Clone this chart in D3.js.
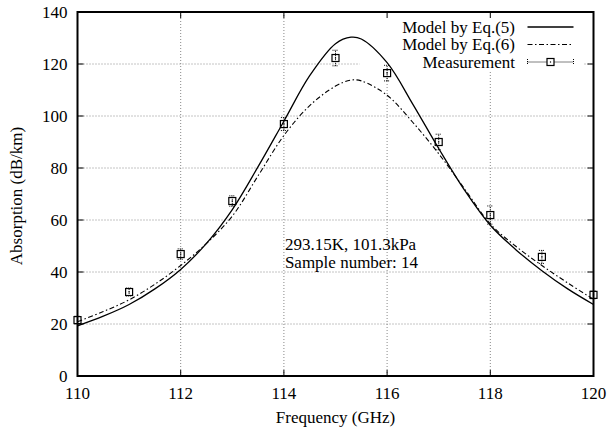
<!DOCTYPE html>
<html>
<head>
<meta charset="utf-8">
<script src="https://cdn.jsdelivr.net/npm/d3@7"></script>
<style>
  body { margin: 0; background: #fff; }
  svg text { font-family: "Liberation Serif"; font-size: 17px; fill: #000; }
</style>
</head>
<body>
<div id="chart"></div>
<script>
// Measured points (GHz, dB/km) with error half-widths
const freq = [110, 111, 112, 113, 114, 115, 116, 117, 118, 119, 120];
const absorption = [21.5, 32.3, 46.9, 67.3, 96.9, 122.3, 116.5, 90.0, 61.9, 45.8, 31.2];
const errHalf = [1.5, 1.5, 2, 2, 2.5, 3, 3, 3, 3.5, 2.5, 1.5];

// Model curves
const modelFreq = [110, 110.5, 111, 111.5, 112, 112.5, 113, 113.5, 114, 114.5, 115, 115.3,
    115.5, 116, 116.5, 117, 117.5, 118, 118.5, 119, 119.5, 120];
const eq5 = [19.3, 23, 27.5, 33.5, 41, 51, 64, 80.5, 98, 115.5, 127.8, 130.3,
    129.6, 120.5, 104.5, 87.5, 71.5, 58, 48.5, 40.5, 33.5, 27.5];
const eq6 = [20.9, 24.8, 29.3, 35.3, 42.5, 51, 61.5, 77, 92.5, 104, 111.5, 113.8,
    113.5, 108, 97.5, 85.5, 72, 58.5, 49.8, 42.5, 35.8, 29.5];

const xTicks = [110, 112, 114, 116, 118, 120];
const yTicks = [0, 20, 40, 60, 80, 100, 120, 140];
const legendLabels = ["Model by Eq.(5)", "Model by Eq.(6)", "Measurement"];
const noteLines = ["293.15K, 101.3kPa", "Sample number: 14"];

const W = 607, H = 433;
const margin = { top: 12, right: 13.5, bottom: 57, left: 77.5 };
const width = W - margin.left - margin.right;
const height = H - margin.top - margin.bottom;

const svg = d3.select('#chart').append('svg')
    .attr('width', W).attr('height', H);
const g = svg.append('g')
    .attr('transform', `translate(${margin.left},${margin.top})`);

const x = d3.scaleLinear().domain([110, 120]).range([0, width]);
const y = d3.scaleLinear().domain([0, 140]).range([height, 0]);

// grid
g.append('g').selectAll('line').data(xTicks.slice(1, -1)).enter().append('line')
    .attr('x1', d => x(d)).attr('x2', d => x(d)).attr('y1', 0).attr('y2', height)
    .attr('stroke', '#888').attr('stroke-width', 1).attr('stroke-dasharray', '1,2');
g.append('g').selectAll('line').data(yTicks.slice(1, -1)).enter().append('line')
    .attr('y1', d => y(d)).attr('y2', d => y(d)).attr('x1', 0).attr('x2', width)
    .attr('stroke', '#888').attr('stroke-width', 1).attr('stroke-dasharray', '1,2');

// legend background hides the grid
g.append('rect')
    .attr('x', 282).attr('y', 0).attr('width', 224).attr('height', 58)
    .attr('fill', '#fff');

// note text
g.append('g').selectAll('text').data(noteLines).enter().append('text')
    .attr('x', x(114) + 1).attr('y', (d, i) => 238 + i * 17.5)
    .text(d => d);

// model curves
g.append('clipPath').attr('id', 'clip').append('rect')
    .attr('width', width).attr('height', height);

const line = arr => d3.line()
    .x((d, i) => x(modelFreq[i]))
    .y(d => y(d))
    .curve(d3.curveCatmullRom.alpha(0.5))(arr);

g.append('path').attr('d', line(eq5)).attr('clip-path', 'url(#clip)')
    .attr('fill', 'none').attr('stroke', '#000').attr('stroke-width', 1.3);
g.append('path').attr('d', line(eq6)).attr('clip-path', 'url(#clip)')
    .attr('fill', 'none').attr('stroke', '#000').attr('stroke-width', 1.1)
    .attr('stroke-dasharray', '5,2.5,1.5,2.5');

// measurement error bars and points
const pts = g.append('g').selectAll('g').data(freq).enter().append('g')
    .attr('transform', (d, i) => `translate(${x(d)},0)`);
pts.append('line')
    .attr('y1', (d, i) => y(absorption[i] - errHalf[i]))
    .attr('y2', (d, i) => y(absorption[i] + errHalf[i]))
    .attr('stroke', '#000').attr('stroke-width', 1).attr('stroke-dasharray', '1,1');
[-1, 1].forEach(s => {
    pts.append('line')
        .attr('x1', -3).attr('x2', 3)
        .attr('y1', (d, i) => y(absorption[i] + s * errHalf[i]))
        .attr('y2', (d, i) => y(absorption[i] + s * errHalf[i]))
        .attr('stroke', '#000').attr('stroke-width', 1).attr('stroke-dasharray', '1,1');
});
pts.append('rect')
    .attr('x', -3.5).attr('y', (d, i) => y(absorption[i]) - 3.5)
    .attr('width', 7).attr('height', 7)
    .attr('fill', 'none').attr('stroke', '#000').attr('stroke-width', 1.2);
pts.append('rect')
    .attr('x', -0.6).attr('y', (d, i) => y(absorption[i]) - 0.6)
    .attr('width', 1.2).attr('height', 1.2).attr('fill', '#000');

// legend
const legend = g.append('g').selectAll('g').data(legendLabels).enter().append('g')
    .attr('transform', (d, i) => `translate(0, ${15 + i * 17.5})`);
legend.append('text')
    .attr('x', 437.5).attr('dy', '0.33em').attr('text-anchor', 'end')
    .text(d => d);
legend.filter((d, i) => i === 0).append('line')
    .attr('x1', 450).attr('x2', 496).attr('stroke', '#000').attr('stroke-width', 1.3);
legend.filter((d, i) => i === 1).append('line')
    .attr('x1', 450).attr('x2', 496).attr('stroke', '#000').attr('stroke-width', 1.1)
    .attr('stroke-dasharray', '5,2.5,1.5,2.5');
const measKey = legend.filter((d, i) => i === 2);
measKey.append('line')
    .attr('x1', 450).attr('x2', 496).attr('stroke', '#000').attr('stroke-width', 1)
    .attr('stroke-dasharray', '1,1');
[450, 496].forEach(cx => {
    measKey.append('line').attr('x1', cx).attr('x2', cx).attr('y1', -3).attr('y2', 3)
        .attr('stroke', '#000').attr('stroke-width', 1).attr('stroke-dasharray', '1,1');
});
measKey.append('rect')
    .attr('x', 469.5).attr('y', -3.5).attr('width', 7).attr('height', 7)
    .attr('fill', '#fff').attr('stroke', '#000').attr('stroke-width', 1.2);
measKey.append('rect')
    .attr('x', 472.4).attr('y', -0.6).attr('width', 1.2).attr('height', 1.2).attr('fill', '#000');

// ticks on all four sides, pointing inwards
const tickLen = 6;
const ticks = g.append('g').attr('stroke', '#000').attr('stroke-width', 1);
xTicks.forEach(t => {
    ticks.append('line').attr('x1', x(t)).attr('x2', x(t)).attr('y1', height).attr('y2', height - tickLen);
    ticks.append('line').attr('x1', x(t)).attr('x2', x(t)).attr('y1', 0).attr('y2', tickLen);
});
yTicks.forEach(t => {
    ticks.append('line').attr('y1', y(t)).attr('y2', y(t)).attr('x1', 0).attr('x2', tickLen);
    ticks.append('line').attr('y1', y(t)).attr('y2', y(t)).attr('x1', width).attr('x2', width - tickLen);
});

// frame
g.append('rect').attr('width', width).attr('height', height)
    .attr('fill', 'none').attr('stroke', '#000').attr('stroke-width', 2);

// tick labels
g.append('g').selectAll('text').data(xTicks).enter().append('text')
    .attr('x', d => x(d)).attr('y', height + 23)
    .attr('text-anchor', 'middle')
    .text(d => d);
g.append('g').selectAll('text').data(yTicks).enter().append('text')
    .attr('x', -10).attr('y', d => y(d)).attr('dy', '0.35em')
    .attr('text-anchor', 'end')
    .text(d => d);

// axis titles
svg.append('text')
    .attr('x', margin.left + width / 2).attr('y', 423)
    .attr('text-anchor', 'middle')
    .text('Frequency (GHz)');
svg.append('text')
    .attr('transform', `translate(22, ${margin.top + height / 2 + 2}) rotate(-90)`)
    .attr('text-anchor', 'middle')
    .text('Absorption (dB/km)');
</script>
</body>
</html>
